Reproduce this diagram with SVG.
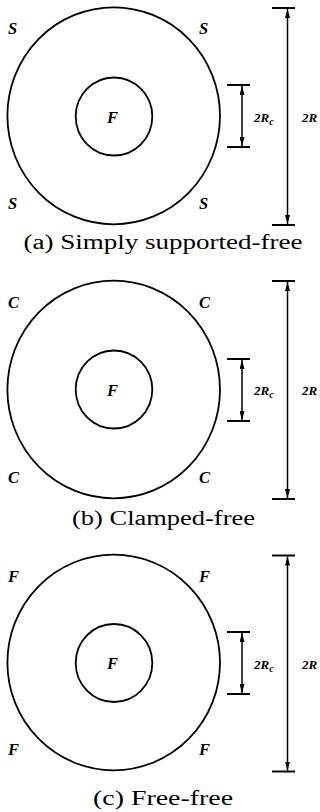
<svg xmlns="http://www.w3.org/2000/svg" width="320" height="812" viewBox="0 0 320 812">
<style>
.c{fill:none;stroke:#000;stroke-width:1.8}
.d{stroke:#000;stroke-width:1.5;fill:none}
.t{stroke:#000;stroke-width:2}
.b{font-family:"Liberation Serif",serif;font-weight:bold;font-style:italic;font-size:16.5px;fill:#000}
.s{font-family:"Liberation Serif",serif;font-weight:bold;font-style:italic;font-size:13px;fill:#000}
.sub{font-size:10px}
.cap{font-family:"Liberation Serif",serif;font-size:20px;fill:#000;text-anchor:middle}
</style>
<defs>
<marker id="ah" viewBox="0 0 9 5" refX="9" refY="2.5" markerWidth="9" markerHeight="5" markerUnits="userSpaceOnUse" orient="auto-start-reverse">
<path d="M0,0 L9,2.5 L0,5 z" fill="#000"/>
</marker>
</defs>

<g id="panel-a">
<ellipse class="c" cx="113.7" cy="115.8" rx="106.3" ry="108.5"/>
<ellipse class="c" cx="114" cy="116.5" rx="38.3" ry="39"/>
<text class="b" x="8" y="34">S</text>
<text class="b" x="199" y="34">S</text>
<text class="b" x="8" y="209">S</text>
<text class="b" x="199" y="209">S</text>
<text class="b" x="107" y="123">F</text>
<line class="t" x1="227" y1="85" x2="250" y2="85"/>
<line class="t" x1="227" y1="147" x2="250" y2="147"/>
<line class="d" x1="242" y1="86" x2="242" y2="146" marker-start="url(#ah)" marker-end="url(#ah)"/>
<line class="t" x1="272" y1="8" x2="295" y2="8"/>
<line class="t" x1="272" y1="225" x2="295" y2="225"/>
<line class="d" x1="287.5" y1="9" x2="287.5" y2="224" marker-start="url(#ah)" marker-end="url(#ah)"/>
<text class="s" x="254" y="122">2R<tspan class="sub" dy="3">c</tspan></text>
<text class="s" x="302" y="122">2R</text>
<text class="cap" x="163" y="249" textLength="279" lengthAdjust="spacingAndGlyphs">(a) Simply supported-free</text>
</g>

<g id="panel-b">
<ellipse class="c" cx="113.7" cy="389.5" rx="106.3" ry="108.8"/>
<ellipse class="c" cx="114" cy="389.5" rx="38.3" ry="39"/>
<text class="b" x="8" y="308">C</text>
<text class="b" x="199" y="308">C</text>
<text class="b" x="8" y="483">C</text>
<text class="b" x="199" y="483">C</text>
<text class="b" x="107" y="396">F</text>
<line class="t" x1="227" y1="359" x2="250" y2="359"/>
<line class="t" x1="227" y1="421" x2="250" y2="421"/>
<line class="d" x1="242" y1="360" x2="242" y2="420" marker-start="url(#ah)" marker-end="url(#ah)"/>
<line class="t" x1="272" y1="281" x2="295" y2="281"/>
<line class="t" x1="272" y1="499" x2="295" y2="499"/>
<line class="d" x1="287.5" y1="282" x2="287.5" y2="498" marker-start="url(#ah)" marker-end="url(#ah)"/>
<text class="s" x="254" y="395">2R<tspan class="sub" dy="3">c</tspan></text>
<text class="s" x="302" y="395">2R</text>
<text class="cap" x="163.5" y="525" textLength="183" lengthAdjust="spacingAndGlyphs">(b) Clamped-free</text>
</g>

<g id="panel-c">
<ellipse class="c" cx="113.7" cy="662.5" rx="106.3" ry="107.8"/>
<ellipse class="c" cx="114" cy="663" rx="38.3" ry="39"/>
<text class="b" x="8" y="582">F</text>
<text class="b" x="199" y="582">F</text>
<text class="b" x="8" y="755">F</text>
<text class="b" x="199" y="755">F</text>
<text class="b" x="107" y="669">F</text>
<line class="t" x1="227" y1="632" x2="250" y2="632"/>
<line class="t" x1="227" y1="694" x2="250" y2="694"/>
<line class="d" x1="242" y1="633" x2="242" y2="693" marker-start="url(#ah)" marker-end="url(#ah)"/>
<line class="t" x1="272" y1="555.5" x2="295" y2="555.5"/>
<line class="t" x1="272" y1="771.5" x2="295" y2="771.5"/>
<line class="d" x1="287.5" y1="556.5" x2="287.5" y2="770.5" marker-start="url(#ah)" marker-end="url(#ah)"/>
<text class="s" x="254" y="669">2R<tspan class="sub" dy="3">c</tspan></text>
<text class="s" x="302" y="669">2R</text>
<text class="cap" x="163" y="805" textLength="140" lengthAdjust="spacingAndGlyphs">(c) Free-free</text>
</g>
</svg>
